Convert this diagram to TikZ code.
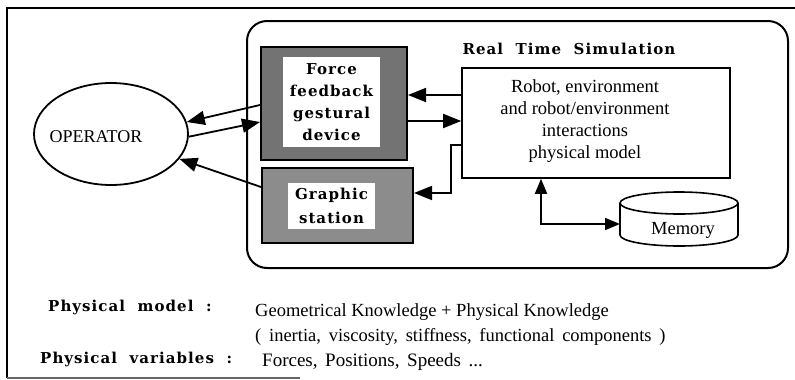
\documentclass[tikz,border=0pt]{standalone}
\usepackage{fontspec}
\setmainfont{Liberation Serif}
\newfontfamily\lblfont[LetterSpace=7]{DejaVu Serif}
\usetikzlibrary{shapes.geometric,arrows.meta,calc}
\tikzset{
  txt/.style={font=\fontsize{18.5}{22}\selectfont, inner sep=0pt},
  lbl/.style={font=\lblfont\bfseries\fontsize{15}{22}\selectfont, inner sep=0pt},
  frameline/.style={line width=1.6pt},
  darkbox/.style={draw, line width=2pt, fill=black!55, inner sep=0pt},
  lightbox/.style={draw, line width=2pt, fill=black!45, inner sep=0pt},
  whitebox/.style={fill=white, inner sep=0pt, align=center},
  arr/.style={line width=1.8pt, -{Triangle[length=18pt,width=14pt]}},
  arrtwo/.style={line width=1.8pt, {Triangle[length=15pt,width=12pt]}-{Triangle[length=15pt,width=12pt]}},
}
\begin{document}
\begin{tikzpicture}[x=1pt,y=-1pt]
\useasboundingbox (0,0) rectangle (795,380);
% outer frame
\draw[frameline] (795,8) -- (7,8) -- (7,378);
\draw[frameline, black!60] (7,378) -- (300,378);
% real time simulation
\node[draw, line width=2pt, rounded corners=20pt, minimum width=541pt, minimum height=247pt, inner sep=0pt] (rts) at (517.5,144.5) {};
\node[lbl] (title) at (569,49) {Real\ \ Time\ \ Simulation};
% force feedback device
\node[darkbox, minimum width=146pt, minimum height=113pt] (ffout) at (334,103.5) {};
\node[whitebox, lbl, minimum width=97pt, minimum height=90pt] (ffin) at (331.5,102) {Force\\feedback\\gestural\\device};
% graphic station
\node[lightbox, minimum width=151pt, minimum height=75pt] (gsout) at (337.5,205.5) {};
\node[whitebox, lbl, minimum width=87pt, minimum height=46pt, font=\lblfont\bfseries\fontsize{15}{24}\selectfont] (gsin) at (331.5,206) {Graphic\\station};
% robot model
\node[draw, line width=1.6pt, minimum width=268pt, minimum height=110pt, inner sep=0pt] (robot) at (596,123) {};
\node[txt, align=center] (robottxt) at (585,121.5) {Robot, environment\\and robot/environment\\interactions\\physical model};
% memory cylinder
\draw[line width=1.6pt, fill=white] (620,203) -- (620,235) arc[start angle=180, end angle=360, x radius=59, y radius=-11] -- (738,203);
\draw[line width=1.6pt] (679,203) ellipse[x radius=59, y radius=11];
\coordinate (memW) at (620,224);
\node[txt] (mem) at (683,230) {Memory};
% operator
\node[draw, ellipse, line width=1.8pt, minimum width=154pt, minimum height=102pt] (op) at (111,134) {};
\node[txt, font=\fontsize{18}{20}\selectfont] (optxt) at (96,137) {OPERATOR};
% connectors
\draw[arr] ($(ffout.west)+(0,1.5)$) -- (op.9);
\draw[arr] (op.-2) -- ($(ffout.west)+(0,18.5)$);
\draw[arr] ($(gsout.west)+(0,-18.5)$) -- (op.-20);
\draw[arr] ($(robot.west)+(0,-28)$) -- ($(ffout.east)+(0,-8.5)$);
\draw[arr] ($(ffout.east)+(0,17.5)$) -- ($(robot.west)+(0,-2)$);
\draw[arr] ($(robot.west)+(0,22)$) -| ($(gsout.east)+(37,-12.5)$) -- ($(gsout.east)+(0,-12.5)$);
\draw[arrtwo] ($(robot.south)+(-55,0)$) |- (memW);
% bottom legend
\node[lbl, anchor=west] (pm) at (48,307) {Physical\ \ model\ \ :};
\node[txt, anchor=west] (pmtxt) at (255,312) {Geometrical Knowledge + Physical Knowledge};
\node[txt, anchor=west] (pmtxt2) at (255,337) {\spaceskip=0.42em plus 0.1em\relax ( inertia, viscosity, stiffness, functional components )};
\node[txt, anchor=west, font=\fontsize{19}{22}\selectfont] (pvtxt) at (262,362) {\spaceskip=0.4em plus 0.1em\relax Forces, Positions, Speeds ...};
\node[lbl, anchor=west] (pv) at (40,359) {Physical\ \ variables\ \ :};
\end{tikzpicture}
\end{document}
